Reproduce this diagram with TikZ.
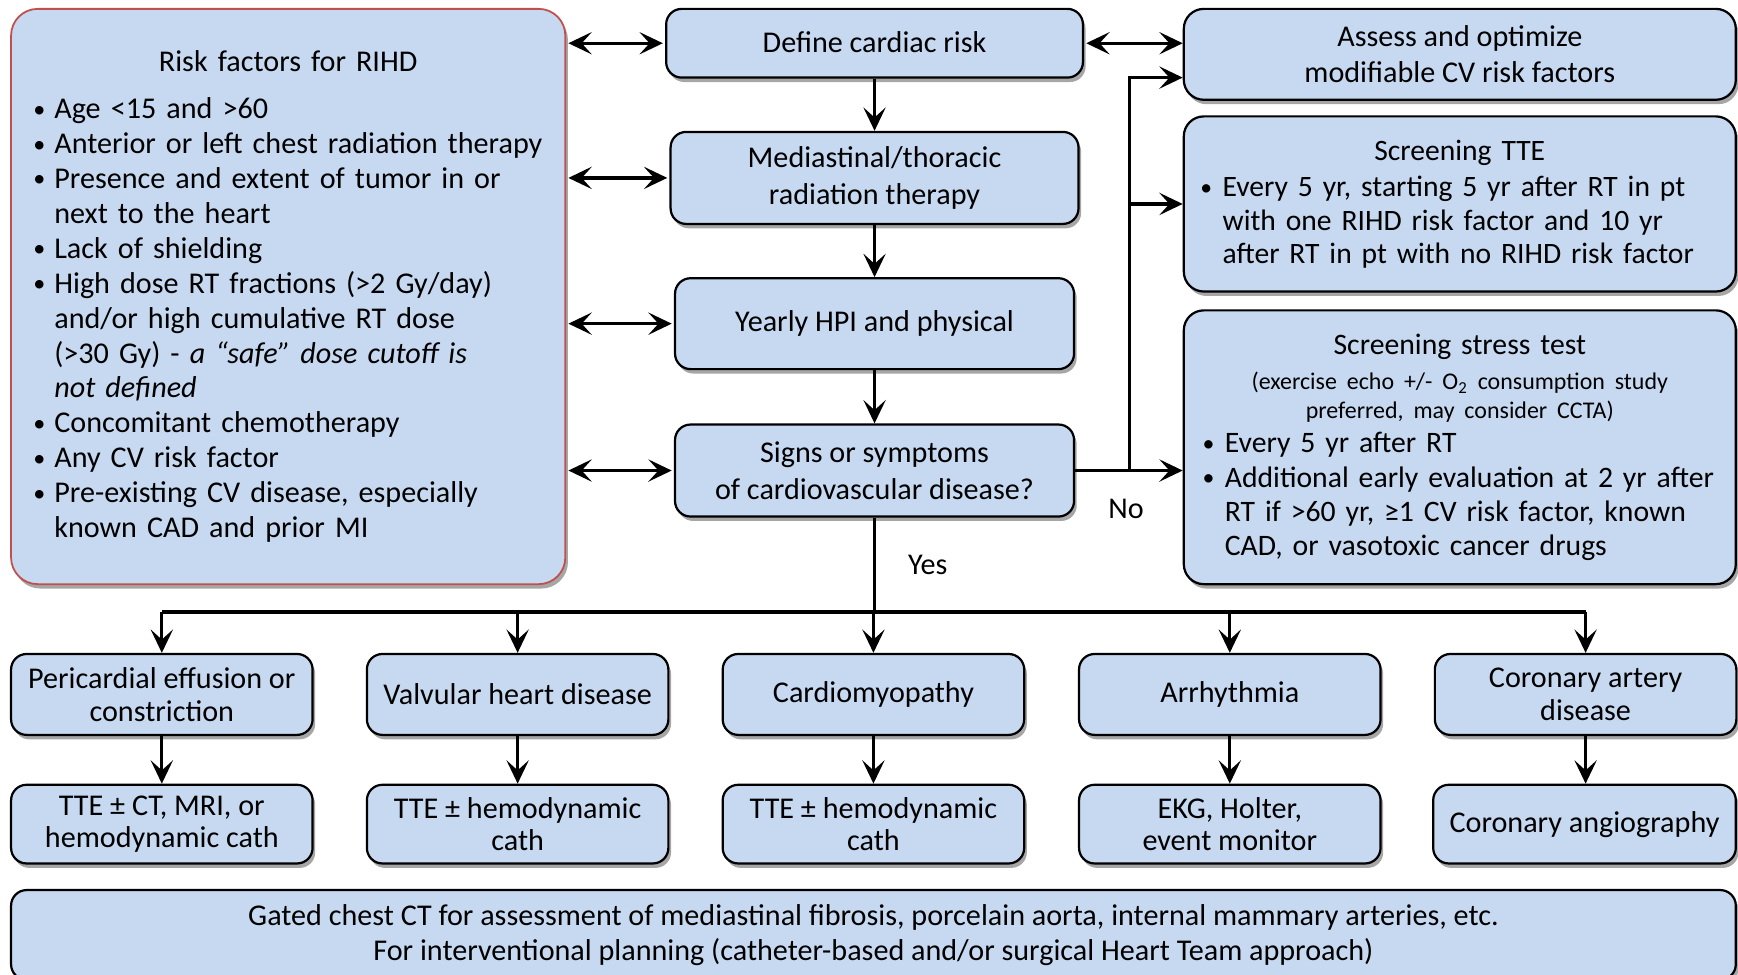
\documentclass[tikz,border=0pt]{standalone}
\usepackage{fontspec}
\setmainfont{Carlito}
\usetikzlibrary{arrows.meta,shadows,calc}
\definecolor{boxblue}{RGB}{198,217,241}
\definecolor{riskred}{RGB}{192,80,77}
\newcommand{\bul}[2][8pt]{\par\noindent\hangindent=#1\hangafter=1\makebox[#1][l]{\hspace{-1.5pt}\raisebox{0.05em}{\scalebox{0.8}{\textbullet}}}#2}
\newcommand{\oneline}[1]{\mbox{#1}}
\begin{document}
\begin{tikzpicture}[x=0.5pt,y=-0.5pt,
  box/.style={draw=black, line width=1pt, fill=boxblue, rounded corners=7pt, align=center, inner sep=0pt,
    drop shadow={shadow xshift=1.2pt, shadow yshift=-2pt, opacity=0.35, fill=black}},
  mainfont/.style={font=\fontsize{13.6}{16.5}\selectfont},
  rowbox/.style={box, minimum width=136pt, font=\fontsize{13.6}{14.75}\selectfont},
  tip/.tip={Stealth[length=10.5pt,width=10pt,inset=4.5pt]},
  arr/.style={line width=1.5pt, -tip},
  darr/.style={line width=1.5pt, tip-tip},
  conn/.style={line width=1.5pt},
  lbl/.style={font=\fontsize{13.6}{16}\selectfont, inner sep=0pt},
  ]
\clip (0,0) rectangle (1568,879);
\fill[white] (0,0) rectangle (1568,879);

% left risk box
\node[box, draw=riskred, line width=0.8pt, rounded corners=12pt, minimum width=250pt, minimum height=259.5pt,
      text width=227pt, align=left, font=\fontsize{13.6}{15.75}\selectfont] (risk) at (260,267.5) {%
{\centering Risk factors for RIHD\par}\vspace{5.5pt}%
\bul{\oneline{Age <15 and >60}}%
\bul{\oneline{Anterior or left chest radiation therapy}}%
\bul{\oneline{Presence and extent of tumor in or}\newline\oneline{next to the heart}}%
\bul{\oneline{Lack of shielding}}%
\bul{\oneline{High dose RT fractions (>2 Gy/day)}\newline\oneline{and/or high cumulative RT dose}\newline\oneline{(>30 Gy) - \textit{a “safe” dose cutoff is}}\newline\oneline{\textit{not defined}}}%
\bul{\oneline{Concomitant chemotherapy}}%
\bul{\oneline{Any CV risk factor}}%
\bul{\oneline{Pre-existing CV disease, especially}\newline\oneline{known CAD and prior MI}}\par};

% centre column
\node[box, mainfont, minimum width=188pt, minimum height=31pt] (define) at (789,39) {\raisebox{1pt}{Define cardiac risk}};
\node[box, mainfont, minimum width=184pt, minimum height=41.5pt] (medi) at (789,160.5) {Mediastinal/thoracic\\radiation therapy};
\node[box, mainfont, minimum width=180pt, minimum height=41pt] (yearly) at (789,292) {Yearly HPI and physical};
\node[box, mainfont, minimum width=180pt, minimum height=41.5pt] (signs) at (789,424.5) {Signs or symptoms\\of cardiovascular disease?};

% right column
\node[box, mainfont, rounded corners=9pt, minimum width=249pt, minimum height=41pt] (assess) at (1317,49) {Assess and optimize\\modifiable CV risk factors};
\node[box, rounded corners=9pt, minimum width=249pt, minimum height=79pt, text width=231pt, align=left,
      font=\fontsize{13.35}{15}\selectfont] (tte) at (1317,184) {%
{\centering Screening TTE\par}\vspace{1.5pt}%
\bul[8.5pt]{\oneline{Every 5 yr, starting 5 yr after RT in pt}\newline\oneline{with one RIHD risk factor and 10 yr}\newline\oneline{after RT in pt with no RIHD risk factor}}\par};
\node[box, rounded corners=9pt, minimum width=249pt, minimum height=123.5pt, text width=229pt, align=left,
      font=\fontsize{13.4}{15.5}\selectfont] (stress) at (1317,403.5) {%
\vspace*{3pt}{\centering Screening stress test\par}%
{\centering\fontsize{10.8}{13}\selectfont (exercise echo +/- O\textsubscript{2} consumption study\\ preferred, may consider CCTA)\par}%
\bul[8.5pt]{\oneline{Every 5 yr after RT}}%
\bul[8.5pt]{\oneline{Additional early evaluation at 2 yr after}\newline\oneline{RT if >60 yr, ≥1 CV risk factor, known}\newline\oneline{CAD, or vasotoxic cancer drugs}}\par};

% outcome rows
\node[rowbox, minimum height=36.5pt] (r1a) at (146,626.5) {Pericardial effusion or\\constriction};
\node[rowbox, minimum height=36.5pt] (r1b) at (467,626.5) {Valvular heart disease};
\node[rowbox, minimum height=36.5pt] (r1c) at (788,626.5) {Cardiomyopathy};
\node[rowbox, minimum height=36.5pt] (r1d) at (1109.5,626.5) {Arrhythmia};
\node[rowbox, minimum height=36.5pt] (r1e) at (1430.5,626.5) {Coronary artery\\disease};
\node[rowbox, minimum height=35.5pt] (r2a) at (146,743.5) {TTE ± CT, MRI, or\\hemodynamic cath};
\node[rowbox, minimum height=35.5pt] (r2b) at (467,743.5) {TTE ± hemodynamic\\cath};
\node[rowbox, minimum height=35.5pt] (r2c) at (788,743.5) {TTE ± hemodynamic\\cath};
\node[rowbox, minimum height=35.5pt] (r2d) at (1109.5,743.5) {EKG, Holter,\\event monitor};
\node[rowbox, minimum height=35.5pt, minimum width=136.5pt] (r2e) at (1429.5,743.5) {Coronary angiography};

% bottom box
\node[box, minimum width=778pt, minimum height=40.5pt, font=\fontsize{13.6}{15.5}\selectfont] (ct) at (788,843.5)
  {Gated chest CT for assessment of mediastinal fibrosis, porcelain aorta, internal mammary arteries, etc.\\
   For interventional planning (catheter-based and/or surgical Heart Team approach)};

% connectors: risk factors <-> centre
\foreach \n in {define,medi,yearly,signs}
  \draw[darr, shorten <=1pt, shorten >=1pt] (risk.east |- \n.west) -- (\n.west);
\draw[darr, shorten <=1pt] (define.east) -- (define.east -| assess.west);
\draw[arr] (define.south) -- (medi.north);
\draw[arr] (medi.south) -- (yearly.north);
\draw[arr] (yearly.south) -- (signs.north);

% No branch
\coordinate (nojoin) at ($(signs.east)+(49,0)$);
\draw[arr] (signs.east) -- (signs.east -| stress.west);
\draw[arr] (nojoin) |- ($(assess.west)!0.5!(assess.south west)$);
\draw[arr] (nojoin |- tte.west) -- (tte.west);
\node[lbl] (no) at (1016,459) {No};

% Yes branch
\coordinate (bus) at ($(signs.south)+(0,85)$);
\draw[conn] (signs.south) -- (bus);
\draw[conn] (r1a.north |- bus) -- (r1e.north |- bus);
\node[lbl] (yes) at (837,510) {Yes};
\foreach \n in {r1a,r1b,r1c,r1d,r1e}
  \draw[arr] (\n.north |- bus) -- (\n.north);
\foreach \a/\b in {r1a/r2a,r1b/r2b,r1c/r2c,r1d/r2d,r1e/r2e}
  \draw[arr] (\a.south) -- (\a.south |- \b.north);
\end{tikzpicture}
\end{document}
